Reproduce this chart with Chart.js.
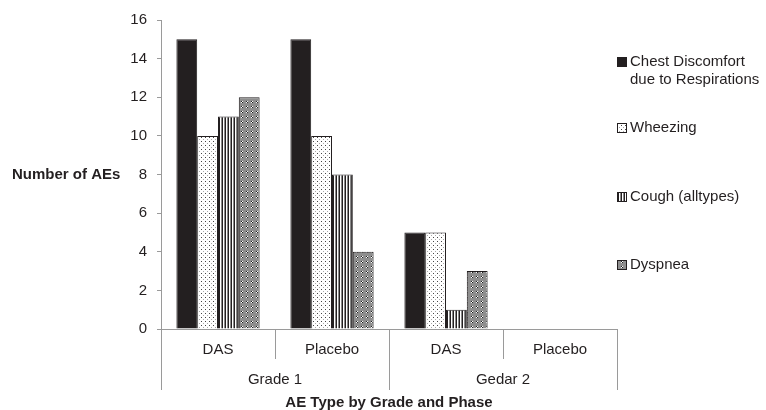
<!DOCTYPE html>
<html>
<head>
<meta charset="utf-8">
<script src="https://cdn.jsdelivr.net/npm/chart.js@4"></script>
<style>
html,body{margin:0;padding:0;background:#fff;}
#wrap{width:766px;height:410px;position:relative;}
</style>
</head>
<body>
<div id="wrap"><canvas id="c" width="766" height="410"></canvas></div>
<script>
// ---- data ----
const categories = ['DAS', 'Placebo', 'DAS', 'Placebo'];
const groups = ['Grade 1', 'Gedar 2'];
const seriesNames = [['Chest Discomfort', 'due to Respirations'], ['Wheezing'], ['Cough (alltypes)'], ['Dyspnea']];
const chestDiscomfort = [15, 15, 5, 0];
const wheezing = [10, 10, 5, 0];
const cough = [11, 8, 1, 0];
const dyspnea = [12, 4, 3, 0];
const yTicks = [0, 2, 4, 6, 8, 10, 12, 14, 16];
const yTitle = 'Number of AEs';
const xTitle = 'AE Type by Grade and Phase';

const INK = '#231f20';
const FONT = '"Liberation Sans", Arial, Helvetica, sans-serif';

function makePattern(w, h, draw) {
  const c = document.createElement('canvas');
  c.width = w; c.height = h;
  const g = c.getContext('2d');
  draw(g);
  return g.createPattern(c, 'repeat');
}
const fills = [
  INK,
  makePattern(4, 4, g => {
    g.fillStyle = '#fff'; g.fillRect(0, 0, 4, 4);
    g.fillStyle = '#444'; g.fillRect(1, 1, 1, 1);
    g.fillStyle = '#aaa'; g.fillRect(3, 3, 1, 1);
  }),
  makePattern(3, 1, g => {
    g.fillStyle = INK; g.fillRect(0, 0, 1, 1);
    g.fillStyle = '#fff'; g.fillRect(1, 0, 1, 1);
    g.fillStyle = '#8a8a8a'; g.fillRect(2, 0, 1, 1);
  }),
  makePattern(5, 5, g => {
    g.fillStyle = '#8e8e8e'; g.fillRect(0, 0, 5, 5);
    g.fillStyle = '#222'; g.fillRect(1, 1, 1, 1); g.fillRect(2, 2, 1, 1);
    g.fillStyle = '#fff'; g.fillRect(2, 1, 1, 1); g.fillRect(1, 2, 1, 1);
  })
];
const seriesData = [chestDiscomfort, wheezing, cough, dyspnea];

const decorPlugin = {
  id: 'decor',
  afterDraw(chart) {
    const ctx = chart.ctx;
    const x = chart.scales.x;
    const area = chart.chartArea;
    const n = categories.length;
    const px = i => x.getPixelForValue(i);
    const bounds = [area.left];
    for (let i = 0; i < n - 1; i++) bounds.push((px(i) + px(i + 1)) / 2);
    bounds.push(area.right);
    const perGroup = n / groups.length;
    ctx.save();
    ctx.strokeStyle = '#9a9a9a';
    ctx.lineWidth = 1;
    bounds.forEach((b, i) => {
      const isGroup = i % perGroup === 0;
      const bx = Math.round(b) + 0.5;
      ctx.beginPath();
      ctx.moveTo(bx, area.bottom);
      ctx.lineTo(bx, area.bottom + (isGroup ? 61 : 30));
      ctx.stroke();
    });
    ctx.fillStyle = INK;
    ctx.textAlign = 'center';
    ctx.textBaseline = 'middle';
    ctx.font = '15px ' + FONT;
    categories.forEach((c, i) => ctx.fillText(c, px(i), area.bottom + 21));
    groups.forEach((g, k) => {
      const cx = (bounds[k * perGroup] + bounds[(k + 1) * perGroup]) / 2;
      ctx.fillText(g, cx, area.bottom + 51);
    });
    ctx.font = 'bold 15px ' + FONT;
    ctx.fillText(xTitle, (area.left + area.right) / 2, area.bottom + 74);
    // y title
    ctx.textAlign = 'left';
    ctx.fillText(yTitle, 12, (area.top + area.bottom) / 2);
    // legend
    const lx = area.right;
    const ly = [62, 128, 197, 265];
    ctx.font = '15px ' + FONT;
    seriesNames.forEach((lines, i) => {
      ctx.fillStyle = fills[i];
      ctx.fillRect(lx, ly[i] - 5, 10, 10);
      ctx.strokeStyle = INK;
      ctx.strokeRect(lx + 0.5, ly[i] - 4.5, 9, 9);
      ctx.fillStyle = INK;
      lines.forEach((t, j) => ctx.fillText(t, lx + 13, ly[i] + j * 18));
    });
    ctx.restore();
  }
};

new Chart(document.getElementById('c'), {
  type: 'bar',
  data: {
    labels: categories,
    datasets: seriesData.map((d, i) => ({
      label: seriesNames[i].join(' '),
      data: d,
      backgroundColor: fills[i],
      borderColor: INK,
      borderWidth: 1,
      categoryPercentage: 0.73,
      barPercentage: 1.0
    }))
  },
  options: {
    responsive: false,
    animation: false,
    events: [],
    layout: { padding: { left: 0, right: 149, top: 20, bottom: 0 } },
    plugins: { legend: { display: false }, tooltip: { enabled: false }, title: { display: false } },
    scales: {
      x: {
        afterFit: s => { s.height = 81; },
        ticks: { display: false },
        grid: { display: false },
        border: { display: true, color: '#9a9a9a', width: 1 }
      },
      y: {
        min: 0, max: 16,
        afterFit: s => { s.width = 161; },
        afterBuildTicks: s => { s.ticks = yTicks.map(v => ({ value: v })); },
        ticks: { color: INK, font: { family: FONT, size: 15 }, padding: 10 },
        grid: { drawOnChartArea: false, drawTicks: true, tickLength: 4, color: '#9a9a9a' },
        border: { display: true, color: '#9a9a9a', width: 1 }
      }
    }
  },
  plugins: [decorPlugin]
});
</script>
</body>
</html>
